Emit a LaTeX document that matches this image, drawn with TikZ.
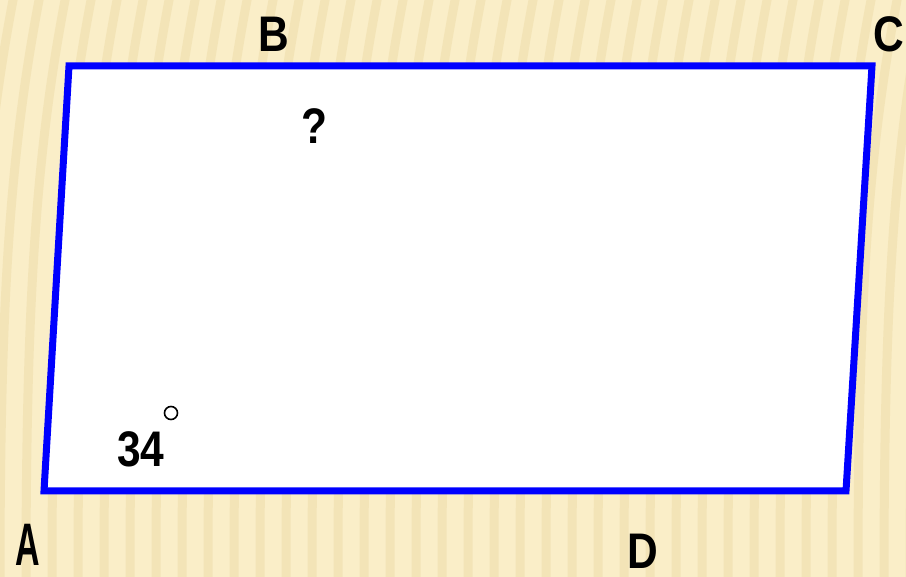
\documentclass[tikz,border=0pt]{standalone}
\usepackage{fontspec}
\setmainfont{Liberation Sans}
\begin{document}
\begin{tikzpicture}[x=1pt,y=-1pt,
  lbl/.style={font=\fontsize{50}{56}\selectfont\bfseries, xscale=0.85, inner sep=0pt, text depth=0pt, text=black},
  side/.style={draw=blue, line width=7pt, fill=white, line join=miter},
  stripe/.style={draw=stripecol, line width=9pt, opacity=0.35, line cap=butt}]
\definecolor{bgcol}{HTML}{FAEEC8}
\definecolor{stripecol}{HTML}{E8D398}
\useasboundingbox (0,0) rectangle (906,577);
\fill[bgcol] (0,0) rectangle (906,577);
\begin{scope}
\clip (0,0) rectangle (906,577);
\foreach \i in {-4,...,40} {
  \draw[stripe] (\i*26,580) .. controls (\i*26,300) and (\i*26+10,150) .. (\i*26+40,-5);
}
\end{scope}
\coordinate (pA) at (44,491);
\coordinate (pB) at (69,66);
\coordinate (pC) at (872,66);
\coordinate (pD) at (846,491);
\draw[side] (pA) -- (pB) -- (pC) -- (pD) -- cycle;
\node[lbl, xscale=0.8, yscale=1.2] (lA) at (28,545) {A};
\node[lbl] (lB) at (274,34) {B};
\node[lbl] (lC) at (889,34) {C};
\node[lbl] (lD) at (643,551) {D};
\node[lbl] (q) at (314,126) {?};
\node[lbl] (n) at (141,449) {34};
\node[draw=black, circle, line width=1.6pt, minimum size=13pt, inner sep=0pt] (deg) at (171,413) {};
\end{tikzpicture}
\end{document}
